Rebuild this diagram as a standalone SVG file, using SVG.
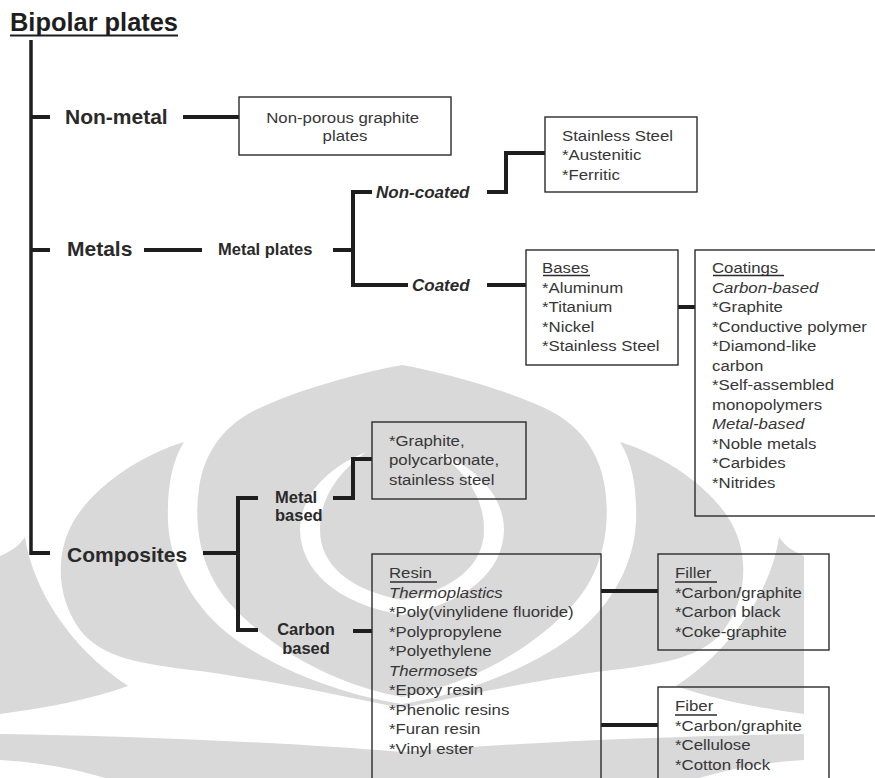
<svg xmlns="http://www.w3.org/2000/svg" width="875" height="778" viewBox="0 0 875 778">
  <style>
    .wm { fill: #d9d9d9; }
    .wmw { fill: #ffffff; }
    .box { fill: none; stroke: #2b2b2b; stroke-width: 1.4; }
    .trunk { fill: none; stroke: #1e1e1e; stroke-width: 3.5; stroke-linecap: butt; }
    .link { fill: none; stroke: #1e1e1e; stroke-width: 4; stroke-linecap: butt; stroke-linejoin: miter; }
    .ul { stroke: #2b2b2b; stroke-width: 1.6; }
    .title { font-family: "Liberation Sans", Arial, sans-serif; font-weight: bold; font-size: 25px; fill: #1e1e1e; }
    .lvl1 { font-family: "Liberation Sans", Arial, sans-serif; font-weight: bold; font-size: 21px; fill: #2a2a2a; }
    .lvl2 { font-family: "Liberation Sans", Arial, sans-serif; font-weight: bold; font-size: 16.5px; fill: #2a2a2a; }
    .lvl2i { font-family: "Liberation Sans", Arial, sans-serif; font-weight: bold; font-style: italic; font-size: 17px; fill: #2a2a2a; }
    .txt { font-family: "Liberation Sans", Arial, sans-serif; font-size: 15px; fill: #363636; }
    .it { font-style: italic; }
  </style>

  <!-- faint emblem in the background (left half, mirrored) -->
  <g id="emblem">
    <g id="emblem-half">
      <!-- central dome -->
      <path class="wm" d="M402,365 C362,372 288,392 248,414 C224,428 204,452 199,488 C193,530 202,575 234,608 C272,648 332,684 402,697 Z"/>
      <!-- ring inside the dome -->
      <path class="wmw" d="M366,452 C322,470 300,500 300,530 C301,570 335,603 402,615 L402,600 C350,590 320,565 320,530 C320,500 335,475 366,452 Z"/>
      <!-- side wing -->
      <path class="wm" d="M184,442 C140,455 88,490 70,528 C55,560 58,600 80,630 C102,658 140,664 200,671 C280,682 345,697 402,708 L402,704 C332,693 262,662 226,632 C190,602 170,562 168,522 C167,490 171,463 184,442 Z"/>
      <!-- outer curl -->
      <path class="wm" d="M25,537 C32,585 66,645 128,686 C92,699 46,708 0,714 L0,556 C10,552 19,546 25,537 Z"/>
      <!-- base sweep -->
      <path class="wm" d="M0,734 C130,736 280,742 402,752 L402,778 L105,778 C72,768 36,762 0,760 Z"/>
    </g>
    <use href="#emblem-half" transform="matrix(-1 0 0 1 804 0)"/>
  </g>

  <!-- title -->
  <g id="title">
    <text class="title" x="10" y="31" textLength="168" lengthAdjust="spacingAndGlyphs">Bipolar plates</text>
    <line x1="10" y1="35.5" x2="178" y2="35.5" stroke="#1e1e1e" stroke-width="2"/>
  </g>

  <!-- connectors -->
  <g id="connectors">
    <line class="trunk" x1="31" y1="40" x2="31" y2="555"/>
    <line class="link" x1="31" y1="117" x2="50" y2="117"/>
    <line class="link" x1="31" y1="250" x2="50" y2="250"/>
    <line class="link" x1="31" y1="553" x2="50" y2="553"/>
    <line class="link" x1="183" y1="117" x2="239" y2="117"/>
    <line class="link" x1="144" y1="250" x2="202" y2="250"/>
    <line class="link" x1="333" y1="250" x2="353" y2="250"/>
    <polyline class="link" points="372,192 353,192 353,285 408,285"/>
    <polyline class="link" points="487,192 506,192 506,153 545,153"/>
    <line class="link" x1="487" y1="285" x2="526" y2="285"/>
    <line class="link" x1="678" y1="307" x2="695" y2="307"/>
    <line class="link" x1="203" y1="553" x2="238" y2="553"/>
    <polyline class="link" points="258,498 238,498 238,630 258,630"/>
    <polyline class="link" points="333,498 353,498 353,459 372,459"/>
    <line class="link" x1="353" y1="631" x2="372" y2="631"/>
    <line class="link" x1="601" y1="591" x2="658" y2="591"/>
    <line class="link" x1="601" y1="725" x2="658" y2="725"/>
  </g>

  <!-- first level -->
  <g id="non-metal"><text class="lvl1" x="65" y="124">Non-metal</text></g>
  <g id="metals"><text class="lvl1" x="67" y="256">Metals</text></g>
  <g id="composites"><text class="lvl1" x="67" y="562">Composites</text></g>

  <!-- non-metal branch -->
  <g id="graphite-plates">
    <rect class="box" x="239" y="97" width="212" height="58"/>
    <text class="txt" text-anchor="middle" transform="translate(345 0) scale(1.12 1)">
      <tspan x="0" y="123">Non-porous graphite</tspan>
      <tspan x="0" y="141">plates</tspan>
    </text>
  </g>

  <!-- metal branch -->
  <g id="metal-plates"><text class="lvl2" x="218" y="255">Metal plates</text></g>
  <g id="non-coated"><text class="lvl2i" x="376" y="198">Non-coated</text></g>
  <g id="coated"><text class="lvl2i" x="412" y="291">Coated</text></g>

  <g id="stainless">
    <rect class="box" x="545" y="117" width="152" height="75"/>
    <text class="txt" transform="translate(562 0) scale(1.12 1)">
      <tspan x="0" y="141">Stainless Steel</tspan>
      <tspan x="0" y="160.5">*Austenitic</tspan>
      <tspan x="0" y="180">*Ferritic</tspan>
    </text>
  </g>

  <g id="bases">
    <rect class="box" x="526" y="250" width="152" height="115"/>
    <text class="txt" transform="translate(542 0) scale(1.12 1)">
      <tspan x="0" y="273">Bases</tspan>
      <tspan x="0" y="293">*Aluminum</tspan>
      <tspan x="0" y="312.5">*Titanium</tspan>
      <tspan x="0" y="332">*Nickel</tspan>
      <tspan x="0" y="351.5">*Stainless Steel</tspan>
    </text>
    <line class="ul" x1="543" y1="275.5" x2="590" y2="275.5"/>
  </g>

  <g id="coatings">
    <rect class="box" x="695" y="250" width="190" height="266"/>
    <text class="txt" transform="translate(712 0) scale(1.12 1)">
      <tspan x="0" y="273">Coatings</tspan>
      <tspan x="0" y="293" class="it">Carbon-based</tspan>
      <tspan x="0" y="312.5">*Graphite</tspan>
      <tspan x="0" y="332">*Conductive polymer</tspan>
      <tspan x="0" y="351.5">*Diamond-like</tspan>
      <tspan x="0" y="371">carbon</tspan>
      <tspan x="0" y="390.5">*Self-assembled</tspan>
      <tspan x="0" y="410">monopolymers</tspan>
      <tspan x="0" y="429.5" class="it">Metal-based</tspan>
      <tspan x="0" y="449">*Noble metals</tspan>
      <tspan x="0" y="468.5">*Carbides</tspan>
      <tspan x="0" y="488">*Nitrides</tspan>
    </text>
    <line class="ul" x1="713" y1="275.5" x2="784" y2="275.5"/>
  </g>

  <!-- composite branch -->
  <g id="metal-based"><text class="lvl2"><tspan x="275" y="503">Metal</tspan><tspan x="275" y="521">based</tspan></text></g>
  <g id="carbon-based"><text class="lvl2" text-anchor="middle"><tspan x="306" y="635">Carbon</tspan><tspan x="306" y="654">based</tspan></text></g>

  <g id="metal-composite">
    <rect class="box" x="372" y="422" width="154" height="77"/>
    <text class="txt" transform="translate(389 0) scale(1.12 1)">
      <tspan x="0" y="446">*Graphite,</tspan>
      <tspan x="0" y="465.5">polycarbonate,</tspan>
      <tspan x="0" y="485">stainless steel</tspan>
    </text>
  </g>

  <g id="resin">
    <rect class="box" x="372" y="554" width="229" height="240"/>
    <text class="txt" transform="translate(389 0) scale(1.12 1)">
      <tspan x="0" y="578.5">Resin</tspan>
      <tspan x="0" y="598" class="it">Thermoplastics</tspan>
      <tspan x="0" y="617.5">*Poly(vinylidene fluoride)</tspan>
      <tspan x="0" y="637">*Polypropylene</tspan>
      <tspan x="0" y="656.5">*Polyethylene</tspan>
      <tspan x="0" y="676" class="it">Thermosets</tspan>
      <tspan x="0" y="695.5">*Epoxy resin</tspan>
      <tspan x="0" y="715">*Phenolic resins</tspan>
      <tspan x="0" y="734.5">*Furan resin</tspan>
      <tspan x="0" y="754">*Vinyl ester</tspan>
    </text>
    <line class="ul" x1="390" y1="582" x2="437" y2="582" stroke-width="2.2"/>
  </g>

  <g id="filler">
    <rect class="box" x="658" y="554" width="171" height="96"/>
    <text class="txt" transform="translate(675 0) scale(1.12 1)">
      <tspan x="0" y="578.5">Filler</tspan>
      <tspan x="0" y="598">*Carbon/graphite</tspan>
      <tspan x="0" y="617.5">*Carbon black</tspan>
      <tspan x="0" y="637">*Coke-graphite</tspan>
    </text>
    <line class="ul" x1="675" y1="582" x2="717" y2="582" stroke-width="2.2"/>
  </g>

  <g id="fiber">
    <rect class="box" x="658" y="687" width="171" height="110"/>
    <text class="txt" transform="translate(675 0) scale(1.12 1)">
      <tspan x="0" y="711.5">Fiber</tspan>
      <tspan x="0" y="731">*Carbon/graphite</tspan>
      <tspan x="0" y="750.5">*Cellulose</tspan>
      <tspan x="0" y="770">*Cotton flock</tspan>
    </text>
    <line class="ul" x1="675" y1="715" x2="717" y2="715" stroke-width="2.2"/>
  </g>
</svg>
